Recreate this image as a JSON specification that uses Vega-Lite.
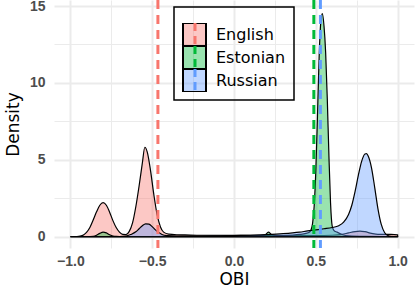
{
  "$schema": "https://vega.github.io/schema/vega-lite/v6.json",
  "width": 360,
  "height": 248,
  "autosize": {"type": "none"},
  "padding": {"left": 54, "top": 0, "right": 5, "bottom": 47},
  "background": "white",
  "config": {
    "view": {"stroke": null},
    "font": "Liberation Sans",
    "axis": {
      "domain": false,
      "ticks": false,
      "tickSize": 0,
      "gridColor": "#EBEBEB",
      "labelFont": "Liberation Sans",
      "labelFontSize": 14,
      "labelFontWeight": "bold",
      "labelColor": "#4D4D4D",
      "titleFont": "DejaVu Sans",
      "titleFontSize": 17,
      "titleFontWeight": "normal",
      "titleColor": "black"
    }
  },
  "layer": [
    {
      "data": {
        "values": [
          {"lang": "English", "obi": -1.0, "density": 0.0},
          {"lang": "English", "obi": -0.96, "density": 0.01},
          {"lang": "English", "obi": -0.94, "density": 0.04},
          {"lang": "English", "obi": -0.92, "density": 0.12},
          {"lang": "English", "obi": -0.9, "density": 0.3},
          {"lang": "English", "obi": -0.88, "density": 0.62},
          {"lang": "English", "obi": -0.86, "density": 1.1},
          {"lang": "English", "obi": -0.84, "density": 1.62},
          {"lang": "English", "obi": -0.82, "density": 2.05},
          {"lang": "English", "obi": -0.8, "density": 2.22},
          {"lang": "English", "obi": -0.78, "density": 2.05},
          {"lang": "English", "obi": -0.76, "density": 1.6},
          {"lang": "English", "obi": -0.74, "density": 1.05},
          {"lang": "English", "obi": -0.72, "density": 0.6},
          {"lang": "English", "obi": -0.7, "density": 0.3},
          {"lang": "English", "obi": -0.68, "density": 0.15},
          {"lang": "English", "obi": -0.66, "density": 0.14},
          {"lang": "English", "obi": -0.64, "density": 0.35},
          {"lang": "English", "obi": -0.62, "density": 0.9},
          {"lang": "English", "obi": -0.6, "density": 1.95},
          {"lang": "English", "obi": -0.58, "density": 3.3},
          {"lang": "English", "obi": -0.56, "density": 4.8},
          {"lang": "English", "obi": -0.545, "density": 5.82},
          {"lang": "English", "obi": -0.53, "density": 5.5},
          {"lang": "English", "obi": -0.51, "density": 4.3},
          {"lang": "English", "obi": -0.49, "density": 2.75},
          {"lang": "English", "obi": -0.47, "density": 1.45},
          {"lang": "English", "obi": -0.45, "density": 0.65},
          {"lang": "English", "obi": -0.43, "density": 0.3},
          {"lang": "English", "obi": -0.4, "density": 0.17},
          {"lang": "English", "obi": -0.35, "density": 0.13},
          {"lang": "English", "obi": -0.3, "density": 0.12},
          {"lang": "English", "obi": -0.2, "density": 0.1},
          {"lang": "English", "obi": -0.1, "density": 0.1},
          {"lang": "English", "obi": 0.0, "density": 0.09},
          {"lang": "English", "obi": 0.1, "density": 0.09},
          {"lang": "English", "obi": 0.2, "density": 0.08},
          {"lang": "English", "obi": 0.3, "density": 0.08},
          {"lang": "English", "obi": 0.4, "density": 0.08},
          {"lang": "English", "obi": 0.5, "density": 0.08},
          {"lang": "English", "obi": 0.6, "density": 0.1},
          {"lang": "English", "obi": 0.66, "density": 0.15},
          {"lang": "English", "obi": 0.7, "density": 0.25},
          {"lang": "English", "obi": 0.74, "density": 0.34},
          {"lang": "English", "obi": 0.77, "density": 0.37},
          {"lang": "English", "obi": 0.8, "density": 0.33},
          {"lang": "English", "obi": 0.84, "density": 0.22},
          {"lang": "English", "obi": 0.88, "density": 0.15},
          {"lang": "English", "obi": 0.92, "density": 0.15},
          {"lang": "English", "obi": 0.96, "density": 0.15},
          {"lang": "English", "obi": 1.0, "density": 0.12},
          {"lang": "Estonian", "obi": -1.0, "density": 0.0},
          {"lang": "Estonian", "obi": -0.9, "density": 0.0},
          {"lang": "Estonian", "obi": -0.86, "density": 0.03},
          {"lang": "Estonian", "obi": -0.84, "density": 0.1},
          {"lang": "Estonian", "obi": -0.82, "density": 0.22},
          {"lang": "Estonian", "obi": -0.8, "density": 0.3},
          {"lang": "Estonian", "obi": -0.78, "density": 0.25},
          {"lang": "Estonian", "obi": -0.76, "density": 0.13},
          {"lang": "Estonian", "obi": -0.74, "density": 0.05},
          {"lang": "Estonian", "obi": -0.72, "density": 0.02},
          {"lang": "Estonian", "obi": -0.6, "density": 0.01},
          {"lang": "Estonian", "obi": -0.4, "density": 0.02},
          {"lang": "Estonian", "obi": -0.2, "density": 0.03},
          {"lang": "Estonian", "obi": 0.0, "density": 0.05},
          {"lang": "Estonian", "obi": 0.1, "density": 0.06},
          {"lang": "Estonian", "obi": 0.16, "density": 0.07},
          {"lang": "Estonian", "obi": 0.19, "density": 0.12},
          {"lang": "Estonian", "obi": 0.21, "density": 0.3},
          {"lang": "Estonian", "obi": 0.23, "density": 0.15},
          {"lang": "Estonian", "obi": 0.26, "density": 0.08},
          {"lang": "Estonian", "obi": 0.3, "density": 0.08},
          {"lang": "Estonian", "obi": 0.36, "density": 0.11},
          {"lang": "Estonian", "obi": 0.4, "density": 0.15},
          {"lang": "Estonian", "obi": 0.44, "density": 0.22},
          {"lang": "Estonian", "obi": 0.46, "density": 0.3},
          {"lang": "Estonian", "obi": 0.47, "density": 0.42},
          {"lang": "Estonian", "obi": 0.48, "density": 0.85},
          {"lang": "Estonian", "obi": 0.49, "density": 2.0},
          {"lang": "Estonian", "obi": 0.5, "density": 4.3},
          {"lang": "Estonian", "obi": 0.51, "density": 7.8},
          {"lang": "Estonian", "obi": 0.52, "density": 11.6},
          {"lang": "Estonian", "obi": 0.53, "density": 13.9},
          {"lang": "Estonian", "obi": 0.54, "density": 14.5},
          {"lang": "Estonian", "obi": 0.55, "density": 13.7},
          {"lang": "Estonian", "obi": 0.56, "density": 12.0},
          {"lang": "Estonian", "obi": 0.57, "density": 9.0},
          {"lang": "Estonian", "obi": 0.58, "density": 5.3},
          {"lang": "Estonian", "obi": 0.59, "density": 2.2},
          {"lang": "Estonian", "obi": 0.6, "density": 0.7},
          {"lang": "Estonian", "obi": 0.61, "density": 0.42},
          {"lang": "Estonian", "obi": 0.63, "density": 0.3},
          {"lang": "Estonian", "obi": 0.66, "density": 0.15},
          {"lang": "Estonian", "obi": 0.7, "density": 0.06},
          {"lang": "Estonian", "obi": 0.8, "density": 0.02},
          {"lang": "Estonian", "obi": 1.0, "density": 0.0},
          {"lang": "Russian", "obi": -1.0, "density": 0.0},
          {"lang": "Russian", "obi": -0.7, "density": 0.01},
          {"lang": "Russian", "obi": -0.66, "density": 0.04},
          {"lang": "Russian", "obi": -0.63, "density": 0.15},
          {"lang": "Russian", "obi": -0.6, "density": 0.32},
          {"lang": "Russian", "obi": -0.58, "density": 0.52},
          {"lang": "Russian", "obi": -0.56, "density": 0.72},
          {"lang": "Russian", "obi": -0.54, "density": 0.84},
          {"lang": "Russian", "obi": -0.52, "density": 0.82},
          {"lang": "Russian", "obi": -0.5, "density": 0.66},
          {"lang": "Russian", "obi": -0.48, "density": 0.45},
          {"lang": "Russian", "obi": -0.46, "density": 0.27},
          {"lang": "Russian", "obi": -0.44, "density": 0.15},
          {"lang": "Russian", "obi": -0.41, "density": 0.08},
          {"lang": "Russian", "obi": -0.35, "density": 0.05},
          {"lang": "Russian", "obi": -0.2, "density": 0.05},
          {"lang": "Russian", "obi": -0.1, "density": 0.06},
          {"lang": "Russian", "obi": 0.0, "density": 0.08},
          {"lang": "Russian", "obi": 0.1, "density": 0.1},
          {"lang": "Russian", "obi": 0.2, "density": 0.14},
          {"lang": "Russian", "obi": 0.3, "density": 0.2},
          {"lang": "Russian", "obi": 0.4, "density": 0.3},
          {"lang": "Russian", "obi": 0.45, "density": 0.38},
          {"lang": "Russian", "obi": 0.5, "density": 0.45},
          {"lang": "Russian", "obi": 0.55, "density": 0.52},
          {"lang": "Russian", "obi": 0.6, "density": 0.6},
          {"lang": "Russian", "obi": 0.64, "density": 0.72},
          {"lang": "Russian", "obi": 0.67, "density": 0.95},
          {"lang": "Russian", "obi": 0.7, "density": 1.45},
          {"lang": "Russian", "obi": 0.72, "density": 2.05},
          {"lang": "Russian", "obi": 0.74, "density": 2.95},
          {"lang": "Russian", "obi": 0.76, "density": 4.0},
          {"lang": "Russian", "obi": 0.78, "density": 4.9},
          {"lang": "Russian", "obi": 0.8, "density": 5.38},
          {"lang": "Russian", "obi": 0.81, "density": 5.4},
          {"lang": "Russian", "obi": 0.82, "density": 5.25},
          {"lang": "Russian", "obi": 0.84, "density": 4.5},
          {"lang": "Russian", "obi": 0.86, "density": 3.2},
          {"lang": "Russian", "obi": 0.88, "density": 1.8},
          {"lang": "Russian", "obi": 0.9, "density": 0.8},
          {"lang": "Russian", "obi": 0.92, "density": 0.28},
          {"lang": "Russian", "obi": 0.94, "density": 0.08},
          {"lang": "Russian", "obi": 0.96, "density": 0.03},
          {"lang": "Russian", "obi": 1.0, "density": 0.01}
        ]
      },
      "mark": {"type": "area", "stroke": "black", "strokeWidth": 1.2, "interpolate": "monotone", "opacity": 1},
      "encoding": {
        "x": {
          "field": "obi", "type": "quantitative",
          "scale": {"domain": [-1.1, 1.1], "nice": false, "zero": false},
          "axis": {
            "title": "OBI",
            "values": [-1, -0.75, -0.5, -0.25, 0, 0.25, 0.5, 0.75, 1],
            "format": ".1f",
            "labelExpr": "abs(datum.value*2 - round(datum.value*2)) < 0.001 ? datum.label : ''",
            "gridWidth": {"condition": {"test": "abs(datum.value*2 - round(datum.value*2)) < 0.001", "value": 2}, "value": 1},
            "labelPadding": 6,
            "titlePadding": 3
          }
        },
        "y": {
          "field": "density", "type": "quantitative", "stack": null,
          "scale": {"domain": [-0.73, 15.39], "nice": false, "zero": false},
          "axis": {
            "title": "Density",
            "values": [0, 2.5, 5, 7.5, 10, 12.5, 15],
            "labelExpr": "datum.value % 5 == 0 ? format(datum.value, 'd') : ''",
            "gridWidth": {"condition": {"test": "datum.value % 5 == 0", "value": 2}, "value": 1},
            "labelPadding": 9,
            "titlePadding": 7
          }
        },
        "fill": {
          "field": "lang", "type": "nominal",
          "scale": {"domain": ["English", "Estonian", "Russian"], "range": ["rgba(248,118,109,0.4)", "rgba(0,186,56,0.4)", "rgba(97,156,255,0.4)"]},
          "legend": {
            "orient": "none", "legendX": 120, "legendY": 7,
            "title": " ", "titleFontSize": 8, "titlePadding": 0,
            "padding": 8, "strokeColor": "black",
            "symbolType": "square", "symbolSize": 529,
            "symbolStrokeColor": "black", "symbolStrokeWidth": 2, "symbolOpacity": 1,
            "labelFont": "DejaVu Sans", "labelFontSize": 16, "labelColor": "black", "labelOffset": 9,
            "clipHeight": 23, "rowPadding": 0,
            "encode": {"legend": {"update": {"strokeWidth": {"value": 1.5}}}}
          }
        }
      }
    },
    {
      "data": {
        "values": [
          {"grp": "English line", "pos": -0.465},
          {"grp": "Estonian line", "pos": 0.488},
          {"grp": "Russian line", "pos": 0.528}
        ]
      },
      "mark": {"type": "rule", "strokeWidth": 3, "strokeDash": [9, 6]},
      "encoding": {
        "x": {"field": "pos", "type": "quantitative"},
        "stroke": {
          "field": "grp", "type": "nominal",
          "scale": {"domain": ["English line", "Estonian line", "Russian line"], "range": ["#F8766D", "#00BA38", "#619CFF"]},
          "legend": {
            "orient": "none", "legendX": 120, "legendY": 7,
            "title": " ", "titleFontSize": 8, "titlePadding": 0,
            "padding": 8, "strokeColor": null,
            "symbolType": "M0,-1L0,1", "symbolSize": 529,
            "symbolStrokeWidth": 3, "symbolDash": [8, 5],
            "labelFont": "DejaVu Sans", "labelFontSize": 16, "labelOpacity": 0, "labelOffset": 9,
            "clipHeight": 23, "rowPadding": 0
          }
        }
      }
    }
  ]
}
